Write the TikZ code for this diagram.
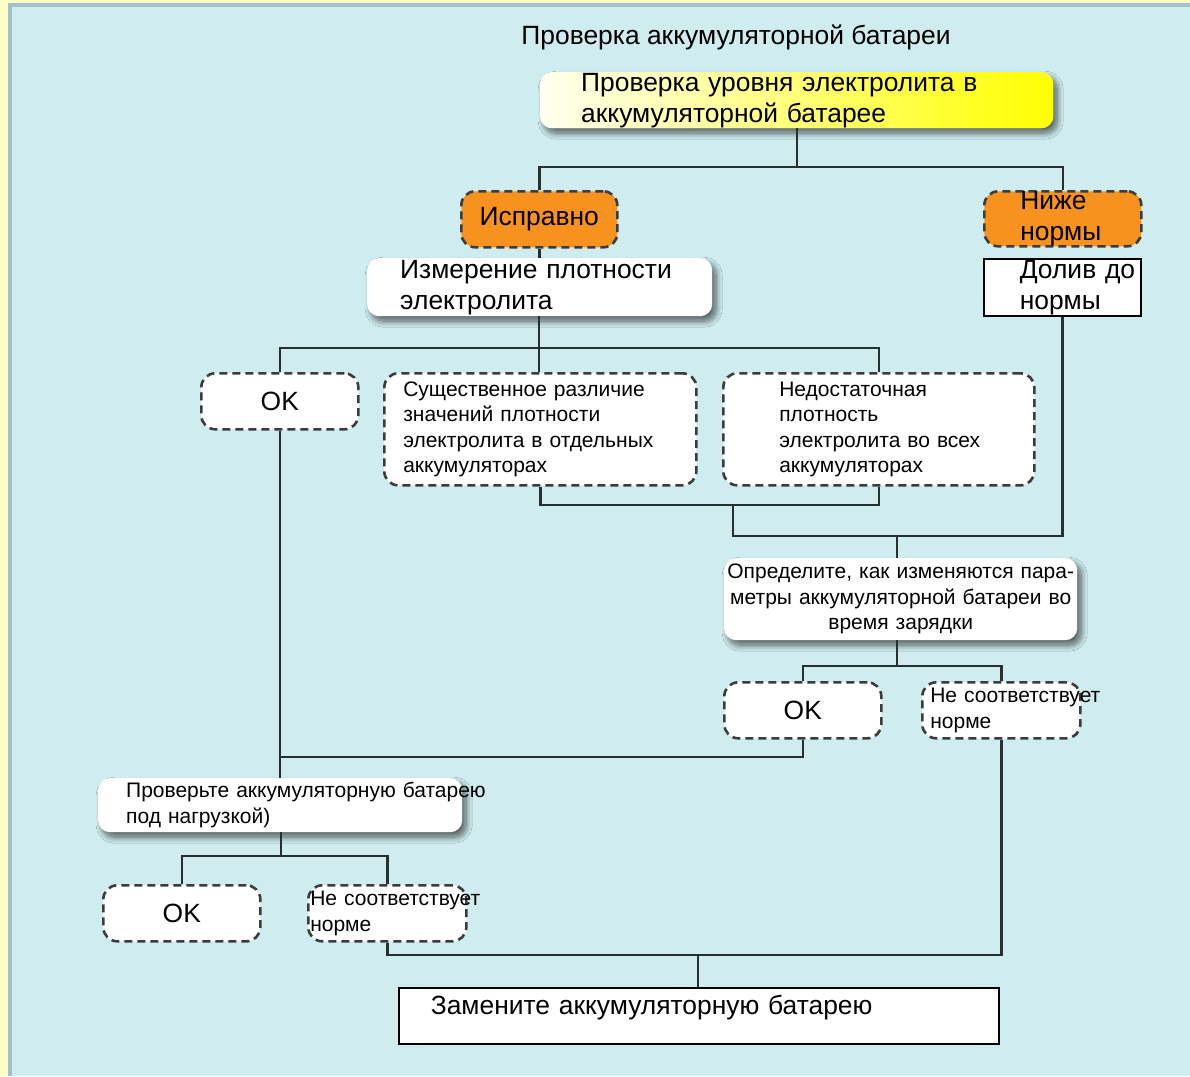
\documentclass[tikz,border=0pt]{standalone}
\usepackage{fontspec}
\setmainfont{Liberation Sans}
\usetikzlibrary{calc,shadows.blur}
\definecolor{paper}{HTML}{FFFDC6}
\definecolor{panel}{HTML}{CFECEE}
\definecolor{paneledge}{HTML}{A2C1C8}
\definecolor{wirecol}{HTML}{26302F}
\definecolor{dashcol}{HTML}{3C3C3C}
\definecolor{amber}{HTML}{F7921E}

\begin{document}
\begin{tikzpicture}[x=1pt,y=-1pt,
 big/.style={font=\fontsize{26.4}{31}\selectfont},
 small/.style={font=\fontsize{21}{25.5}\selectfont},
 roundbox/.style={anchor=north west,rounded corners=12pt,fill=white,inner ysep=0pt,
  blur shadow={shadow xshift=4pt,shadow yshift=-5pt,shadow opacity=60,shadow blur radius=6pt,shadow blur steps=14}},
 outcome/.style={anchor=north west,rounded corners=14pt,fill=white,draw=dashcol,line width=2.6pt,
  dash pattern=on 8pt off 5pt,inner ysep=0pt,align=center},
 squarebox/.style={anchor=north west,draw=black,line width=1.6pt,fill=white,inner ysep=0pt},
 link/.style={draw=wirecol,line width=2.4pt}]
 \useasboundingbox (0,0) rectangle (1190,1076);
 % background panel
 \fill[paper] (0,0) rectangle (1190,1076);
 \fill[panel] (8,3) rectangle (1190,1076);
 \fill[paneledge] (8,3) rectangle (12,1076);
 \fill[paneledge] (8,3) rectangle (1190,7);

 \node[big] (title) at (736,37) {Проверка аккумуляторной батареи};
 \node[roundbox,big,shading=axis,left color=yellow!6,middle color=yellow!80,right color=yellow,
  minimum width=513,minimum height=56,text width=431,inner xsep=41,align=left] (level) at (540,72)
  {Проверка уровня электролита в\\аккумуляторной батарее};

 % first answer
 \node[outcome,big,fill=amber,minimum width=156,minimum height=56] (good) at (460,190) {Исправно};
 \node[outcome,big,fill=amber,minimum width=157,minimum height=55,text width=85,inner xsep=36,align=left] (low) at (983,190) {Ниже\\нормы};
 \node[roundbox,big,minimum width=345,minimum height=58,text width=279,inner xsep=33,align=left] (dens) at (367,258)
  {Измерение плотности\\электролита};
 \node[squarebox,big,minimum width=157,minimum height=57,text width=85,inner xsep=36,align=left] (topup) at (983,258) {Долив~до\\нормы};

 % density results
 \node[outcome,big,minimum width=157,minimum height=56] (ok1) at (200,372) {OK};
 \node[outcome,small,minimum width=312,minimum height=112,text width=274,inner xsep=19,align=left] (diff) at (383,372)
  {Существенное различие\\значений плотности\\электролита в отдельных\\аккумуляторах};
 \node[outcome,small,minimum width=311,minimum height=112,text width=199,inner xsep=56,align=left] (lowall) at (722,372)
  {Недостаточная\\плотность\\электролита~во~всех\\аккумуляторах};

 \node[roundbox,small,minimum width=353,minimum height=82,text width=351,inner xsep=1,align=center] (charge) at (724,558)
  {Определите,~как~изменяются~пара-\\метры~аккумуляторной~батареи~во\\время зарядки};
 \node[outcome,big,minimum width=157,minimum height=56] (ok2) at (723,681) {OK};
 \node[outcome,small,minimum width=158,minimum height=56,text width=142,inner xsep=8,align=left] (bad2) at (921,681)
  {Не~соответствует\\норме};

 \node[roundbox,small,minimum width=364,minimum height=54,text width=308,inner xsep=28,align=left] (load) at (98,778)
  {Проверьте~аккумуляторную~батарею\\под нагрузкой)};
 \node[outcome,big,minimum width=157,minimum height=56] (ok3) at (102,884) {OK};
 \node[outcome,small,minimum width=158,minimum height=56,text width=154,inner xsep=2,align=left] (bad3) at (307,884)
  {Не~соответствует\\норме};

 \node[squarebox,big,minimum width=600,minimum height=56,text width=536,inner xsep=32,align=left,text depth=22pt] (swap) at (398,987)
  {Замените аккумуляторную батарею};

 % connectors
 \coordinate (j1) at (797,167);
 \coordinate (j2) at (539,348);
 \coordinate (j3) at (733,505);
 \coordinate (j4) at (897,536);
 \coordinate (j5) at (897,666);
 \coordinate (j6) at (279,757);
 \coordinate (j7) at (281,856);
 \coordinate (j8) at (698,955);
 \draw[link] (level.south -| j1) -- (j1);
 \draw[link] (good.north) |- (j1) -| (low.north);
 \draw[link] (good.south) -- (good.south |- dens.north);
 \draw[link] (dens.south -| j2) -- (diff.north -| j2);
 \draw[link] (ok1.north) |- (j2) -| (lowall.north);
 \draw[link] (diff.south) |- (j3) -| (lowall.south);
 \draw[link] (j3) |- (j4) -| (topup.south);
 \draw[link] (j4) -- (j4 |- charge.north);
 \draw[link] (charge.south -| j5) -- (j5);
 \draw[link] (ok2.north) |- (j5) -| (bad2.north);
 \draw[link] (ok1.south) -- (ok1.south |- load.north);
 \draw[link] (ok2.south) |- (ok1.south |- j6);
 \draw[link] (load.south -| j7) -- (j7);
 \draw[link] (ok3.north) |- (j7) -| (bad3.north);
 \draw[link] (bad3.south) |- (j8) -| (bad2.south);
 \draw[link] (j8) -- (j8 |- swap.north);
\end{tikzpicture}
\end{document}
